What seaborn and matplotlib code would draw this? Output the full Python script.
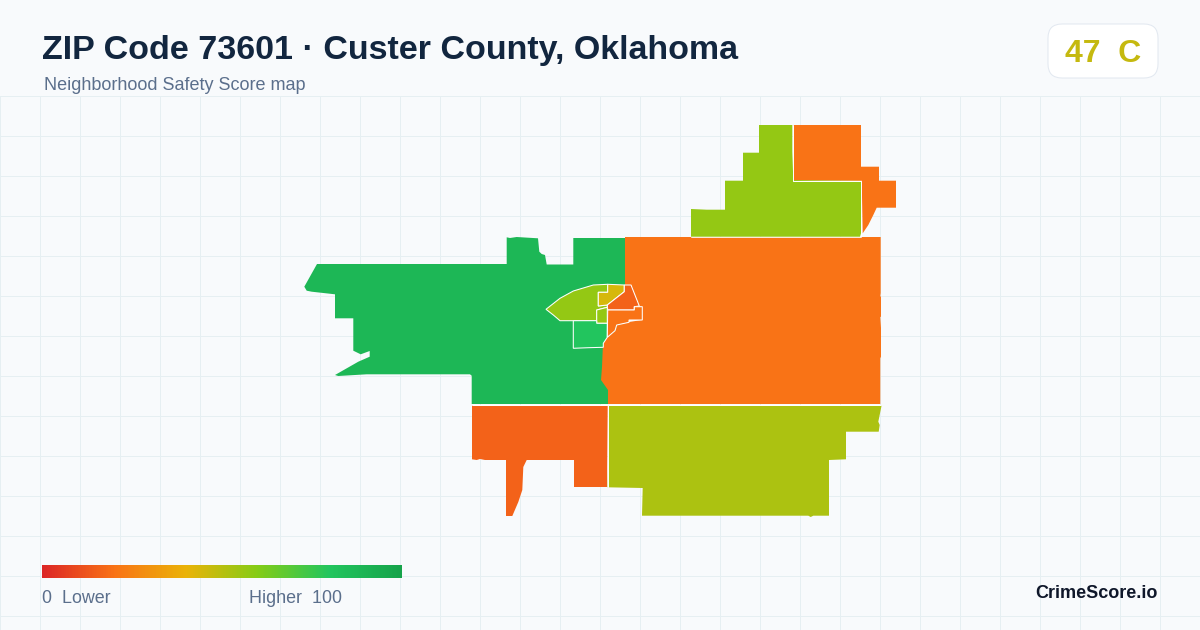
import numpy as np
import matplotlib
matplotlib.use("Agg")
import matplotlib.pyplot as plt
from matplotlib.patches import FancyBboxPatch
from matplotlib.colors import LinearSegmentedColormap
import seaborn as sns

# ---- data -------------------------------------------------------------
TITLE = "ZIP Code 73601 \u00b7 Custer County, Oklahoma"
SUBTITLE = "Neighborhood Safety Score map"
BADGE = "47  C"
BRAND = "CrimeScore.io"
LEGEND_LOW = "0  Lower"
LEGEND_HIGH = "Higher  100"
score_stops = [0, 20, 40, 60, 80, 100]
stop_colors = ["#dc2626", "#f97316", "#eab308", "#84cc16", "#22c55e", "#16a34a"]

# tract outlines as map coordinates with their safety scores
west_score = 88
west = [(317,264),(506.7,264),(506.7,237.3),(510,238),(516.7,237),(528,237.7),(538,238.3),(539.3,251.7),(541.7,254),(545,255),(546.7,264.5),(573.3,264.5),(573.3,238),(625,238),(625,300),(608,404),(471.7,404),(471.7,375.7),(470,374.3),(366.7,374.3),(338.3,376),(335,375),(358.3,361.7),(369.7,356.7),(369.7,351),(360.7,354.3),(353.3,350.7),(353.3,318.3),(335,318.3),(335,294.3),(311.7,291.7),(306.7,290.7),(304.3,286.7)]
east_score = 20
east = [(625,237),(880.7,237),(880.7,293),(880.3,296),(881,297),(881,316.7),(880.3,317),(881,328),(881,356.7),(880.3,358.3),(880.3,404),(608,404),(608,390),(601,380),(602,367),(603,343),(607,337),(615,331),(617,325),(629,322),(642,320),(642,307),(639,306),(631,285),(625,285)]
south_west_score = 16
south_west = [(472,405),(607.7,405),(607,487),(574,487),(574,460),(526.7,460),(523.3,467),(522.3,490),(518.3,502),(512.3,516),(506,516),(506,460),(485,460),(480,459),(476.7,460),(472,459.3)]
south_east_score = 52
south_east = [(609,405),(881.7,405),(878.3,421.7),(879.7,425),(878.7,431.7),(846,431.7),(846,459.3),(829,460),(829,515.7),(813.3,515.7),(810.7,517),(808.3,515.7),(642,515.7),(642.7,488),(607.7,487.3)]
north_mid_score = 57
north_mid = [(759,125),(792.3,125),(792.3,151.7),(793.3,180),(861,180.7),(861,233.3),(860,236.7),(691,236.7),(691,209),(706.7,209.7),(725,209.7),(725,180.7),(743,180.7),(743,152.7),(759,152.7)]
north_east_score = 20
north_east = [(793.3,125),(861,125),(861,166.7),(879,166.7),(879,180.7),(896,180.7),(896,207.7),(876.7,207.7),(873.3,215),(868.3,225),(862.7,233.3),(861.7,180.7),(793.3,180)]
town_a_score = 57
town_a = [(546,309.3),(560,298.3),(573.3,291),(593.3,285),(607.7,284.3),(607.7,292.3),(598.3,292.3),(598.3,306),(607.3,305),(607.3,307.3),(596.7,310),(596.7,320.7),(573.3,320.7),(560,320.7),(553.3,315)]
town_b_score = 44
town_b = [(607.7,284.3),(624.3,285),(624.3,291.7),(607.3,305),(598.3,306),(598.3,292.3),(607.7,292.3)]
town_c_score = 16
town_c = [(624.3,285),(631,285),(639.3,306),(634.3,306.7),(634.3,310),(607.7,310),(607.3,305),(624.3,291.7)]
town_d_score = 57
town_d = [(596.7,310),(607.3,307.3),(607.3,323.3),(596.7,323.3)]
town_e_score = 80
town_e = [(573.3,320.7),(596.7,320.7),(596.7,323.3),(607.3,323.3),(607.3,337.3),(603.3,343.3),(603.3,347.3),(588.3,347.7),(573.3,348.3)]
town_f_score = 20
town_f = [(607.7,310),(634.3,310),(634.3,306.7),(642.3,306.7),(642.3,320),(629,320),(629,322.3),(616.7,325),(615,330.7),(607.3,337.3)]

# ---- drawing ----------------------------------------------------------
sns.set_theme(style="white")
plt.rcParams["font.family"] = ["Liberation Sans", "DejaVu Sans"]

score_cmap = LinearSegmentedColormap.from_list(
    "score", [(s / 100, c) for s, c in zip(score_stops, stop_colors)])

fig = plt.figure(figsize=(12, 6.3), dpi=100, facecolor="#f8fafc")
ax = fig.add_axes([0, 0, 1, 1])
ax.set_xlim(0, 1200)
ax.set_ylim(630, 0)
ax.axis("off")

for x in range(0, 1200, 40):
    ax.plot([x + .5, x + .5], [96, 630], color="#e6eff2", lw=0.72, zorder=1,
            solid_capstyle="butt", snap=False)
for y in range(96, 630, 40):
    ax.plot([0, 1200], [y + .5, y + .5], color="#e6eff2", lw=0.72, zorder=1,
            solid_capstyle="butt", snap=False)

tracts = [(west, west_score), (east, east_score), (south_west, south_west_score),
          (south_east, south_east_score), (north_mid, north_mid_score),
          (north_east, north_east_score), (town_a, town_a_score), (town_b, town_b_score),
          (town_c, town_c_score), (town_d, town_d_score), (town_e, town_e_score),
          (town_f, town_f_score)]
for i, (poly, score) in enumerate(tracts):
    xs, ys = zip(*poly)
    ax.fill(xs, ys, facecolor=score_cmap(score / 100), edgecolor="white" if i > 5 else "none",
            lw=0.75, zorder=3 + i, joinstyle="miter")
# white seams between the large tracts
ax.plot([472, 881], [404.5, 404.5], color="white", lw=0.72, zorder=10)
ax.plot([608, 608], [404, 487], color="white", lw=0.72, zorder=10)
ax.plot([793, 793, 861, 861], [125, 180.5, 180.5, 236], color="white", lw=0.72, zorder=10)
ax.plot([691, 861], [237, 237], color="white", lw=0.6, zorder=10)

ax.add_patch(FancyBboxPatch((1062, 38), 82, 26, boxstyle="round,pad=14,rounding_size=14",
                            facecolor="white", edgecolor="#e2e8f0", lw=0.72, zorder=5))
ax.text(42, 50, TITLE, fontsize=24.5, fontweight="bold", color="#12263f", va="center", ha="left", zorder=6)
ax.text(44, 86, SUBTITLE, fontsize=13, color="#5b6f8c", va="center", ha="left", zorder=6)
ax.text(1103, 54, BADGE, fontsize=23, fontweight="bold", color="#c5b90f", va="center", ha="center", zorder=6)
ax.text(42, 598.5, LEGEND_LOW, fontsize=12.9, color="#5b6f8c", va="center", ha="left", zorder=6)
ax.text(249, 598.5, LEGEND_HIGH, fontsize=12.9, color="#5b6f8c", va="center", ha="left", zorder=6)
ax.text(1158, 594, BRAND, fontsize=13, fontweight="bold", color="#0f172a", va="center", ha="right", zorder=6)

# legend gradient
cax = fig.add_axes([42 / 1200, 1 - 578 / 630, 360 / 1200, 13 / 630])
sns.heatmap(np.linspace(0, 100, 360)[None, :], ax=cax, cmap=score_cmap, vmin=0, vmax=100,
            cbar=False, xticklabels=False, yticklabels=False, rasterized=True)

fig.savefig("out.png", dpi=100, facecolor=fig.get_facecolor())
